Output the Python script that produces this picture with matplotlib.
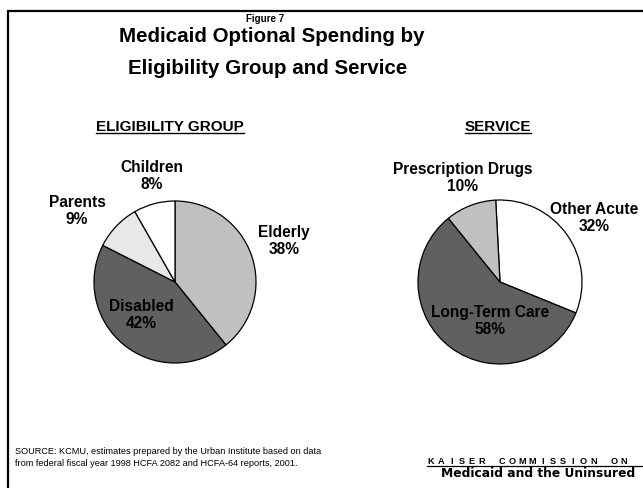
import matplotlib
matplotlib.use("Agg")
import matplotlib.pyplot as plt
from matplotlib.patches import Rectangle
from matplotlib.lines import Line2D

W, H = 643, 489

# Eligibility group shares (%)
group_labels = ["Elderly", "Disabled", "Parents", "Children"]
group_values = [38, 42, 9, 8]
group_colors = ["#c0c0c0", "#606060", "#e8e8e8", "#ffffff"]

# Service shares (%)
service_labels = ["Other Acute", "Long-Term Care", "Prescription Drugs"]
service_values = [32, 58, 10]
service_colors = ["#ffffff", "#606060", "#c0c0c0"]

FONT = "Liberation Sans"

fig = plt.figure(figsize=(W / 100, H / 100), dpi=100)
fig.patch.set_facecolor("white")


def fx(px):
    return px / W


def fy(py):
    return 1 - py / H


def ftext(x, y, s, **kw):
    kw.setdefault("family", FONT)
    kw.setdefault("ha", "center")
    kw.setdefault("va", "center")
    kw.setdefault("color", "black")
    return fig.text(fx(x), fy(y), s, **kw)


# slide frame
fig.patches.append(Rectangle((fx(8), fy(H + 20)), fx(W + 20 - 8), (H + 20 - 12) / H,
                             transform=fig.transFigure, fill=False,
                             edgecolor="black", linewidth=1.6, clip_on=False))

# titles
ftext(265, 19, "Figure 7", fontsize=7, fontweight="bold")
ftext(272, 36, "Medicaid Optional Spending by", fontsize=14.8, fontweight="bold")
ftext(268, 69, "Eligibility Group and Service", fontsize=14.8, fontweight="bold")

headings = [
    ftext(170, 127, "ELIGIBILITY GROUP", fontsize=11, fontweight="bold"),
    ftext(498, 127, "SERVICE", fontsize=11, fontweight="bold"),
]


def pie_axes(cx, cy, r):
    return fig.add_axes([fx(cx - r), fy(cy + r), 2 * r / W, 2 * r / H])


ax1 = pie_axes(175, 283, 81)
w1, _ = ax1.pie(group_values, colors=group_colors, startangle=90, counterclock=False,
                wedgeprops=dict(edgecolor="black", linewidth=0.9))
ax2 = pie_axes(500, 283, 82)
w2, _ = ax2.pie(service_values, colors=service_colors, startangle=93, counterclock=False,
                wedgeprops=dict(edgecolor="black", linewidth=0.9))
for ax in (ax1, ax2):
    ax.set_xlim(-1, 1)
    ax.set_ylim(-1, 1)
    ax.set_aspect("equal")
    ax.axis("off")
for w in list(w1) + list(w2):
    w.set_clip_on(False)

lab_kw = dict(fontsize=11.2, fontweight="bold", linespacing=1.15)
group_pos = [(284, 241), (141, 315), (77, 211), (152, 176)]
for name, val, (x, y) in zip(group_labels, group_values, group_pos):
    ftext(x, y, f"{name}\n{val}%", **lab_kw)

service_pos = [(594, 218), (490, 321), (463, 178)]
for name, val, (x, y) in zip(service_labels, service_values, service_pos):
    ftext(x, y, f"{name}\n{val}%", **lab_kw)

# footer
ftext(15, 452, "SOURCE: KCMU, estimates prepared by the Urban Institute based on data",
      fontsize=6.55, ha="left")
ftext(15, 464, "from federal fiscal year 1998 HCFA 2082 and HCFA-64 reports, 2001.",
      fontsize=6.55, ha="left")

# letter-spaced commission name
kaiser_name = "KAISER COMMISSION ON"
pitch = 10.15
for i, ch in enumerate(kaiser_name):
    if ch != " ":
        ftext(431 + i * pitch, 462, ch, fontsize=6.6, fontweight="bold")
fig.lines.append(Line2D([fx(427), fx(W + 5)], [fy(466.5), fy(466.5)],
                        transform=fig.transFigure, color="black", linewidth=0.9))
ftext(538, 474, "Medicaid and the Uninsured", fontsize=8.8, fontweight="heavy",
      family="DejaVu Sans")

# underline the section headings
fig.canvas.draw()
renderer = fig.canvas.get_renderer()
for t in headings:
    bb = t.get_window_extent(renderer)
    y = bb.y0 + 0.5
    fig.lines.append(Line2D([bb.x0 / W, bb.x1 / W], [y / H, y / H],
                            transform=fig.transFigure, color="black", linewidth=1.0))

fig.savefig("out.png", dpi=100)
